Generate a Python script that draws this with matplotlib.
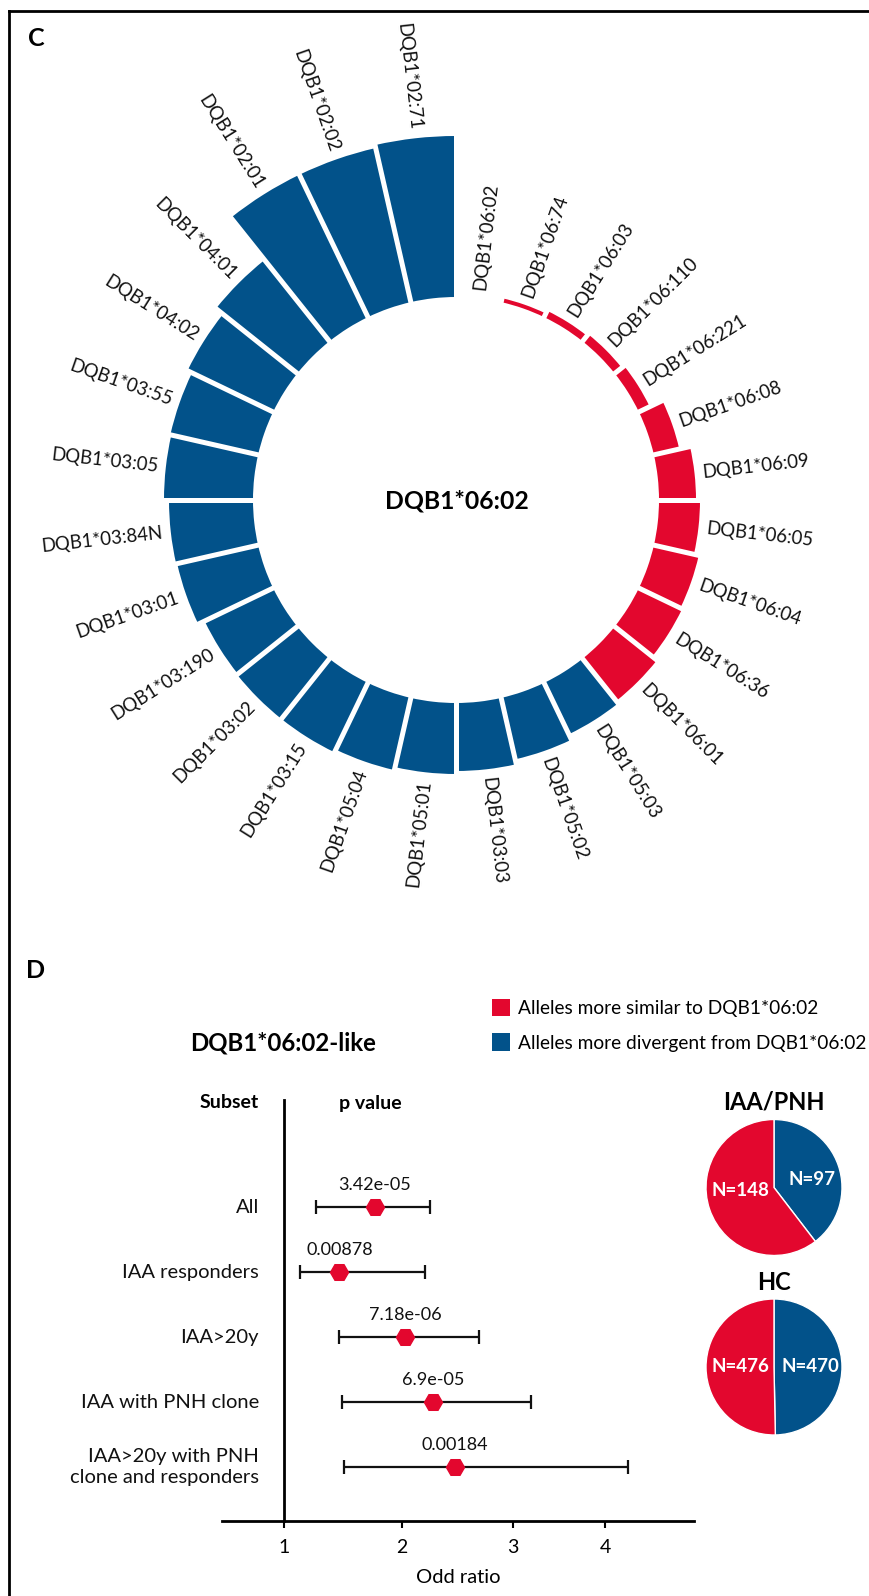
import numpy as np
import matplotlib
matplotlib.use("Agg")
import matplotlib.pyplot as plt
from matplotlib.patches import Patch
from matplotlib.lines import Line2D
import matplotlib.transforms as mtransforms

RED = "#E3072E"
BLUE = "#02528A"
INK = "#111111"

plt.rcParams["font.family"] = ["Lato", "DejaVu Sans"]

# ---- panel C data: distance of each allele from DQB1*06:02 (clockwise from top)
ALLELES = ["DQB1*06:02", "DQB1*06:74", "DQB1*06:03", "DQB1*06:110", "DQB1*06:221",
           "DQB1*06:08", "DQB1*06:09", "DQB1*06:05", "DQB1*06:04", "DQB1*06:36",
           "DQB1*06:01", "DQB1*05:03", "DQB1*05:02", "DQB1*03:03", "DQB1*05:01",
           "DQB1*05:04", "DQB1*03:15", "DQB1*03:02", "DQB1*03:190", "DQB1*03:01",
           "DQB1*03:84N", "DQB1*03:05", "DQB1*03:55", "DQB1*04:02", "DQB1*04:01",
           "DQB1*02:01", "DQB1*02:02", "DQB1*02:71"]
DIST = [0, 4, 7, 9, 12, 26, 37, 41, 46, 48, 54, 57, 63, 68, 71, 74, 77, 77, 76,
        83, 84, 89, 90, 95, 104, 158, 158, 161]
SIMILAR = [True] * 11 + [False] * 17

# ---- panel D data
SUBSETS = ["All", "IAA responders", "IAA>20y", "IAA with PNH clone",
           "IAA>20y with PNH\nclone and responders"]
OR_PT = [1.77, 1.47, 2.03, 2.28, 2.48]
OR_LO = [1.27, 1.14, 1.47, 1.49, 1.51]
OR_HI = [2.25, 2.21, 2.69, 3.20, 4.25]
PVALS = ["3.42e-05", "0.00878", "7.18e-06", "6.9e-05", "0.00184"]
OR_TICKS = [1, 2, 3, 4]

PIE_IAA = [97, 148]   # divergent, similar
PIE_HC = [470, 476]

W, H = 870, 1596
fig = plt.figure(figsize=(W / 100, H / 100), dpi=100)


def fx(px):
    return px / W


def fy(py):
    return 1 - py / H


# frame of the panel
fig.add_artist(Line2D([fx(9.5), 1], [fy(10.5), fy(10.5)], lw=2, color="black",
                      transform=fig.transFigure))
fig.add_artist(Line2D([fx(9.5), fx(9.5)], [fy(10.5), 0], lw=2, color="black",
                      transform=fig.transFigure))

fig.text(fx(36), fy(38), "C", fontsize=18, fontweight="bold", ha="center", va="center")
fig.text(fx(36), fy(971), "D", fontsize=18, fontweight="bold", ha="center", va="center")

# ---- circular barplot
cx, cy, R = 456, 500, 420
INNER = 203
pax = fig.add_axes([fx(cx - R), fy(cy + R), 2 * R / W, 2 * R / H], projection="polar")
pax.set_theta_zero_location("N")
pax.set_theta_direction(-1)
pax.set_ylim(0, R)
pax.axis("off")

n = len(ALLELES)
step = 2 * np.pi / n
theta = (np.arange(n) + 0.5) * step
colors = [RED if s else BLUE for s in SIMILAR]
pax.bar(theta, DIST, width=step, bottom=INNER, color=colors, linewidth=0, align="center")
for k in range(n):
    pax.plot([k * step, k * step], [INNER - 5, INNER + max(DIST) + 10], color="white",
             lw=3.6, solid_capstyle="butt", zorder=3)

for th, lab, d in zip(theta, ALLELES, DIST):
    phi = np.degrees(th)
    r = INNER + d + 8
    if phi < 180:
        rot, ha = 90 - phi, "left"
    else:
        rot, ha = 270 - phi, "right"
    pax.text(th, r, lab, rotation=rot, ha=ha, va="center", rotation_mode="anchor",
             fontsize=13.4, color=INK)

fig.text(fx(457), fy(501), "DQB1*06:02", fontsize=17.8, fontweight="bold",
         ha="center", va="center")

# ---- forest plot
OR_ANCH = [0, 1, 2, 3, 4, 6]
POS_ANCH = [-118, 0, 118, 229, 321, 505]


def fwd(x):
    return np.interp(x, OR_ANCH, POS_ANCH)


def inv(p):
    return np.interp(p, POS_ANCH, OR_ANCH)


ax = fig.add_axes([fx(222), fy(1521), 472 / W, 421 / H])
ax.set_xscale("function", functions=(fwd, inv))
ax.set_xlim(0.475, 4.967)
rows = np.arange(len(SUBSETS))
ax.set_ylim(4.83, -1.646)

ax.spines["top"].set_visible(False)
ax.spines["right"].set_visible(False)
ax.spines["left"].set_position(("data", 1))
ax.spines["left"].set_linewidth(2)
ax.spines["bottom"].set_linewidth(2)
ax.tick_params(axis="y", left=False, labelleft=False)
ax.set_xticks(OR_TICKS)
ax.set_xticklabels([str(t) for t in OR_TICKS])
ax.tick_params(axis="x", length=5, width=1.5, pad=8, labelsize=14)
ax.set_xlabel("Odd ratio", fontsize=14.5, labelpad=9)
ax.patch.set_visible(False)

pt = np.array(OR_PT)
xerr = [pt - np.array(OR_LO), np.array(OR_HI) - pt]
ax.errorbar(pt, rows, xerr=xerr, fmt="none", ecolor=INK, elinewidth=1.6,
            capsize=5, capthick=1.6, zorder=2)
ax.plot(pt, rows, "H", color=RED, markersize=13, zorder=3, clip_on=False)
for x, y, p in zip(pt, rows, PVALS):
    ax.annotate(p, (x, y), xytext=(0, 16), textcoords="offset points",
                ha="center", va="center", fontsize=13, color=INK)

lab_tr = mtransforms.blended_transform_factory(ax.transAxes, ax.transData)
for y, s in zip(rows, SUBSETS):
    ax.text(0.078, y, s, transform=lab_tr, ha="right", va="center", fontsize=14.5,
            color=INK, linespacing=1.25)

fig.text(fx(259), fy(1103), "Subset", fontsize=14, fontweight="bold", ha="right", va="center")
fig.text(fx(370), fy(1103), "p value", fontsize=14, fontweight="bold", ha="center", va="center")
fig.text(fx(283), fy(1043), "DQB1*06:02-like", fontsize=17.3, fontweight="bold",
         ha="center", va="center")

fig.legend(handles=[Patch(facecolor=RED, edgecolor="none",
                          label="Alleles more similar to DQB1*06:02"),
                    Patch(facecolor=BLUE, edgecolor="none",
                          label="Alleles more divergent from DQB1*06:02")],
           loc="upper left", bbox_to_anchor=(fx(492), fy(999)), frameon=False,
           fontsize=13.8, handlelength=0.95, handleheight=1.0, handletextpad=0.4,
           labelspacing=0.85, borderpad=0, borderaxespad=0)

# ---- pies
def pie(center_y, vals, title, label_pos):
    pa = fig.add_axes([fx(774 - 68), fy(center_y + 68), 136 / W, 136 / H])
    pa.pie(vals, colors=[BLUE, RED], startangle=90, counterclock=False, radius=1,
           wedgeprops=dict(edgecolor="white", linewidth=1))
    pa.set_xlim(-1, 1)
    pa.set_ylim(-1, 1)
    for (px, py), v in zip(label_pos, vals):
        pa.text(px, py, f"N={v}", color="white", fontsize=13.5, fontweight="bold",
                ha="center", va="center")
    fig.text(fx(774), fy(center_y - 85), title, fontsize=17, fontweight="bold",
             ha="center", va="center")


pie(1187.5, PIE_IAA, "IAA/PNH", [(0.56, 0.12), (-0.5, -0.04)])
pie(1367, PIE_HC, "HC", [(0.53, 0.0), (-0.49, 0.0)])

fig.savefig("out.png", dpi=100, facecolor="white")
